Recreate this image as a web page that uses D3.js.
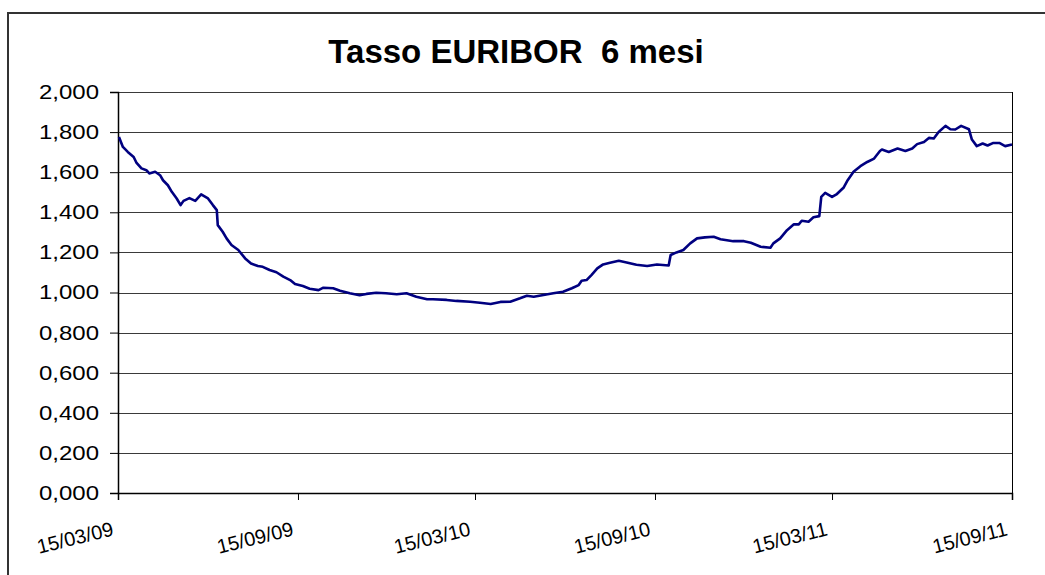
<!DOCTYPE html>
<html>
<head>
<meta charset="utf-8">
<script src="https://cdn.jsdelivr.net/npm/d3@7"></script>
<style>
  body { margin: 0; background: #fff; }
  text { font-family: Arial, "Liberation Sans", sans-serif; }
</style>
</head>
<body>
<div id="chart"></div>
<script>
// Euribor 6 months
const dates = [
  "2009-03-16","2009-03-20","2009-03-25","2009-03-31","2009-04-03","2009-04-08","2009-04-13","2009-04-16",
  "2009-04-22","2009-04-27","2009-04-30","2009-05-05","2009-05-09","2009-05-14","2009-05-18","2009-05-21",
  "2009-05-27","2009-06-02","2009-06-08","2009-06-15","2009-06-20","2009-06-24","2009-06-25","2009-06-30",
  "2009-07-04","2009-07-09","2009-07-16","2009-07-23","2009-07-29","2009-08-05","2009-08-10","2009-08-17",
  "2009-08-24","2009-08-31","2009-09-07","2009-09-12","2009-09-20","2009-09-27","2009-10-06","2009-10-11",
  "2009-10-21","2009-10-28","2009-11-07","2009-11-17","2009-11-24","2009-12-04","2009-12-14","2009-12-25",
  "2010-01-04","2010-01-14","2010-01-25","2010-01-31","2010-02-14","2010-02-24","2010-03-10","2010-03-20",
  "2010-03-31","2010-04-10","2010-04-20","2010-04-30","2010-05-07","2010-05-14","2010-05-24","2010-06-03",
  "2010-06-13","2010-06-22","2010-06-29","2010-07-02","2010-07-07","2010-07-12","2010-07-18","2010-07-24",
  "2010-07-31","2010-08-09","2010-08-17","2010-08-27","2010-09-07","2010-09-17","2010-09-29","2010-10-01",
  "2010-10-07","2010-10-14","2010-10-21","2010-10-28","2010-11-05","2010-11-14","2010-11-21","2010-12-04",
  "2010-12-15","2010-12-22","2011-01-01","2011-01-11","2011-01-14","2011-01-21","2011-01-28","2011-02-04",
  "2011-02-09","2011-02-12","2011-02-19","2011-02-24","2011-03-02","2011-03-04","2011-03-08","2011-03-15",
  "2011-03-20","2011-03-24","2011-03-27","2011-03-31","2011-04-06","2011-04-13","2011-04-20","2011-04-27",
  "2011-05-03","2011-05-05","2011-05-12","2011-05-21","2011-05-29","2011-06-05","2011-06-10","2011-06-17",
  "2011-06-22","2011-06-27","2011-07-02","2011-07-09","2011-07-14","2011-07-19","2011-07-25","2011-08-02",
  "2011-08-05","2011-08-10","2011-08-16","2011-08-21","2011-08-27","2011-09-02","2011-09-08","2011-09-15"
];
const rates = [
  1.776,1.726,1.701,1.676,1.646,1.619,1.610,1.594,
  1.602,1.585,1.560,1.535,1.502,1.469,1.436,1.457,
  1.471,1.457,1.489,1.469,1.436,1.411,1.336,1.303,
  1.270,1.237,1.212,1.170,1.145,1.132,1.128,1.112,
  1.101,1.079,1.062,1.042,1.032,1.019,1.012,1.024,
  1.021,1.009,0.996,0.986,0.993,0.999,0.996,0.991,
  0.996,0.979,0.966,0.966,0.963,0.958,0.954,0.949,
  0.943,0.953,0.954,0.971,0.984,0.979,0.988,0.996,
  1.004,1.021,1.037,1.059,1.062,1.087,1.120,1.140,
  1.148,1.158,1.150,1.138,1.132,1.140,1.135,1.187,
  1.200,1.212,1.245,1.270,1.275,1.278,1.266,1.256,
  1.256,1.248,1.228,1.223,1.245,1.270,1.311,1.340,
  1.340,1.358,1.353,1.375,1.381,1.477,1.497,1.477,
  1.491,1.510,1.524,1.560,1.602,1.630,1.651,1.668,
  1.706,1.713,1.701,1.718,1.706,1.718,1.740,1.751,
  1.771,1.768,1.801,1.831,1.814,1.813,1.831,1.814,
  1.763,1.730,1.743,1.733,1.746,1.746,1.730,1.738
];
const yTicks = [0, 0.2, 0.4, 0.6, 0.8, 1.0, 1.2, 1.4, 1.6, 1.8, 2.0];
const xTickLabels = ["15/03/09","15/09/09","15/03/10","15/09/10","15/03/11","15/09/11"];

const parse = d3.timeParse("%Y-%m-%d");
const parseTick = d3.timeParse("%d/%m/%y");
const data = dates.map((d, i) => ({date: parse(d), value: rates[i]}));
const xTicks = xTickLabels.map(parseTick);

const W = 1045, H = 575;
const margin = {top: 92, right: 33, bottom: 82, left: 118},
      width = W - margin.left - margin.right,
      height = H - margin.top - margin.bottom;

const svg = d3.select("#chart")
    .append("svg")
    .attr("width", W)
    .attr("height", H);

// outer chart frame
svg.append("rect")
    .attr("x", 8)
    .attr("y", 13)
    .attr("width", W)
    .attr("height", H)
    .attr("fill", "none")
    .attr("stroke", "#333")
    .attr("stroke-width", 2);

// title
svg.append("text")
    .attr("x", 516)
    .attr("y", 63)
    .attr("text-anchor", "middle")
    .style("font-size", "33px")
    .style("font-weight", "bold")
    .style("white-space", "pre")
    .text("Tasso EURIBOR  6 mesi");

const g = svg.append("g")
    .attr("transform", `translate(${margin.left},${margin.top})`);

const x = d3.scaleTime()
    .domain([xTicks[0], xTicks[xTicks.length - 1]])
    .range([0, width]);
const y = d3.scaleLinear().domain([0, 2]).range([height, 0]);

const it = d3.formatLocale({decimal: ",", thousands: ".", grouping: [3], currency: ["€", ""]});
const fmt = it.format(".3f");

// gridlines
g.append("g")
    .selectAll("line")
    .data(yTicks.slice(1))
    .enter().append("line")
    .attr("x1", 0)
    .attr("x2", width)
    .attr("y1", d => Math.round(y(d)) + 0.5)
    .attr("y2", d => Math.round(y(d)) + 0.5)
    .attr("stroke", "#3a3a3a")
    .attr("stroke-width", 1);

// plot right border
g.append("line")
    .attr("x1", width + 0.5).attr("x2", width + 0.5)
    .attr("y1", 0).attr("y2", height)
    .attr("stroke", "#000");

// y axis
const yAxis = g.append("g")
    .call(d3.axisLeft(y).tickValues(yTicks).tickSize(8).tickPadding(11).tickFormat(fmt));
yAxis.select(".domain").attr("stroke", "#000").attr("stroke-width", 1.5);
yAxis.selectAll("text")
    .style("font-size", "20px")
    .attr("fill", "#000")
    .attr("textLength", 60)
    .attr("lengthAdjust", "spacingAndGlyphs");

// x axis
const xAxis = g.append("g")
    .attr("transform", `translate(0,${height})`)
    .call(d3.axisBottom(x).tickValues(xTicks).tickSize(7).tickFormat((d, i) => xTickLabels[i]));
xAxis.select(".domain").attr("stroke", "#000").attr("stroke-width", 1.5);
xAxis.selectAll("text")
    .style("font-size", "20px")
    .style("text-anchor", "end")
    .attr("fill", "#000")
    .attr("y", 0)
    .attr("dy", 0)
    .attr("transform", "translate(-4,42) rotate(-14)");

// the line
g.append("path")
    .datum(data)
    .attr("fill", "none")
    .attr("stroke", "#000080")
    .attr("stroke-width", 2.6)
    .attr("stroke-linejoin", "round")
    .attr("d", d3.line().x(d => x(d.date)).y(d => y(d.value)));
</script>
</body>
</html>
